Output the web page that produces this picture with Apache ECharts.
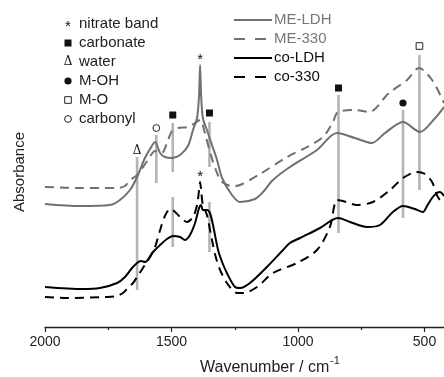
<!DOCTYPE html>
<html>
<head>
<meta charset="utf-8">
<script src="https://cdn.jsdelivr.net/npm/echarts@6/dist/echarts.min.js"></script>
<style>html,body{margin:0;padding:0;background:#fff}#c{width:444px;height:377px}</style>
</head>
<body>
<div id="c"></div>
<script>
// ---- data (wavenumber / cm-1, absorbance a.u.) ----
const seriesNames = ['ME-LDH', 'ME-330', 'co-LDH', 'co-330'];

const wnMELDH = [2000,1862,1743,1704,1664,1636,1605,1585,1565,1545,1526,1498,1466,1435,1415,1399,1391,1387,1383,1376,1360,1340,1320,1300,1261,1229,1170,1138,1099,1032,925,846,775,708,656,585,518,458,423];
const valMELDH = [1.23,1.21,1.22,1.27,1.37,1.50,1.69,1.78,1.85,1.74,1.70,1.69,1.72,1.81,1.97,2.09,2.32,2.62,2.32,2.09,1.97,1.82,1.67,1.49,1.32,1.25,1.28,1.35,1.47,1.60,1.77,1.94,1.89,1.84,1.94,2.05,1.95,2.09,2.20];

const wnME330 = [2000,1862,1715,1684,1664,1636,1593,1565,1538,1518,1498,1474,1435,1407,1387,1368,1348,1320,1300,1261,1229,1150,1043,964,901,862,842,775,719,640,569,522,470,423];
const valME330 = [1.40,1.39,1.39,1.41,1.47,1.52,1.67,1.76,1.74,1.84,1.96,1.99,2.00,2.04,2.07,1.94,1.75,1.54,1.45,1.41,1.42,1.53,1.70,1.80,1.90,2.05,2.15,2.17,2.15,2.34,2.47,2.59,2.47,2.24];

const wnCoLDH = [2000,1850,1783,1715,1684,1656,1636,1621,1605,1573,1545,1518,1494,1466,1447,1427,1407,1391,1383,1376,1360,1348,1336,1316,1300,1281,1249,1229,1190,1123,1059,1032,992,913,842,794,727,676,625,585,538,506,490,470,451,439,423];
const valCoLDH = [0.40,0.38,0.39,0.44,0.50,0.59,0.64,0.66,0.65,0.75,0.82,0.88,0.91,0.90,0.87,0.92,1.04,1.19,1.22,1.17,1.17,1.14,1.02,0.77,0.65,0.54,0.40,0.39,0.44,0.60,0.77,0.84,0.89,0.99,1.09,1.05,1.00,1.02,1.15,1.21,1.18,1.15,1.21,1.29,1.34,1.35,1.31];

const wnCo330 = [2000,1913,1755,1715,1692,1676,1652,1636,1613,1585,1565,1545,1526,1506,1490,1466,1439,1415,1399,1391,1387,1383,1376,1360,1340,1324,1308,1281,1241,1217,1162,1099,1004,925,874,846,822,767,704,636,585,530,498,470,451,439,423];
const valCo330 = [0.30,0.29,0.30,0.31,0.34,0.38,0.44,0.50,0.59,0.70,0.80,0.97,1.11,1.18,1.16,1.10,1.05,1.10,1.22,1.37,1.45,1.37,1.22,1.12,0.87,0.69,0.57,0.44,0.34,0.34,0.40,0.54,0.64,0.77,1.00,1.27,1.26,1.22,1.25,1.37,1.49,1.55,1.53,1.45,1.32,1.27,1.24];

// band marker lines (wavenumber, top, bottom)
const bandWn  = [1636, 1560, 1495, 1495, 1350, 1350, 840, 585, 520];
const bandTop = [1.70, 1.92, 2.04, 1.30, 2.05, 1.25, 2.32, 2.17, 2.72];
const bandBot = [0.37, 1.44, 1.55, 0.80, 1.60, 0.75, 0.94, 1.09, 1.37];

// band symbols
const markWn   = [1636, 1560, 1495, 1387, 1387, 1350, 840, 585, 520];
const markY    = [1.76, 1.99, 2.12, 2.67, 1.50, 2.14, 2.39, 2.24, 2.81];
const markKind = ['water','carbonyl','carbonate','nitrate','nitrate','carbonate','carbonate','M-OH','M-O'];

// key of band symbols
const keyKinds  = ['nitrate','carbonate','water','M-OH','M-O','carbonyl'];
const keyLabels = ['nitrate band','carbonate','water','M-OH','M-O','carbonyl'];

const xTicks = [500, 1000, 1500, 2000];

// ---- drawing ----
const FONT = '"Liberation Sans", Arial, Helvetica, sans-serif';
const GRAY = '#707070';
const BAND = '#b4b4b4';
const seriesColors = [GRAY, GRAY, '#000', '#000'];
const seriesDashed = [false, true, false, true];
const legendText = ['#777', '#777', '#111', '#111'];

function glyph(kind, x, y) {
  switch (kind) {
    case 'nitrate':
      return {type:'text', x:x, y:y, style:{text:'*', fontSize:15, fontFamily:FONT, fill:'#111', align:'center', verticalAlign:'middle'}};
    case 'water':
      return {type:'text', x:x, y:y, style:{text:'Δ', fontSize:12, fontFamily:'"DejaVu Serif", serif', fill:'#111', align:'center', verticalAlign:'middle'}};
    case 'carbonate':
      return {type:'rect', shape:{x:x-3.5, y:y-3.5, width:7, height:7}, style:{fill:'#111'}};
    case 'M-OH':
      return {type:'circle', shape:{cx:x, cy:y, r:3.6}, style:{fill:'#111'}};
    case 'M-O':
      return {type:'rect', shape:{x:x-3.3, y:y-3.3, width:6.6, height:6.6}, style:{fill:'#fff', stroke:'#222', lineWidth:1}};
    case 'carbonyl':
      return {type:'circle', shape:{cx:x, cy:y, r:3.4}, style:{fill:'#fff', stroke:'#222', lineWidth:1}};
  }
}

function pairs(a, b) { return a.map((v, i) => [v, b[i]]); }

const graphics = [];
keyKinds.forEach((k, i) => {
  const yy = 24 + i * 19;
  const g = glyph(k, 68, k === 'nitrate' ? yy + 3 : yy);
  g.z = 100;
  graphics.push(g);
  graphics.push({type:'text', x:79, y:yy, z:100, style:{text:keyLabels[i], fontSize:15, fontFamily:FONT, fill:'#222', verticalAlign:'middle'}});
});
seriesNames.forEach((n, i) => {
  const yy = 20 + i * 19;
  graphics.push({type:'line', z:100, shape:{x1:234, y1:yy, x2:seriesDashed[i] ? 266 : 272, y2:yy},
    style:{stroke:seriesColors[i], lineWidth:2, lineDash: seriesDashed[i] ? [11, 10] : null}});
  graphics.push({type:'text', x:274, y:yy, z:100, style:{text:n, fontSize:15, fontFamily:FONT, fill:legendText[i], verticalAlign:'middle'}});
});
graphics.push({type:'text', x:20, y:172, rotation:Math.PI/2, style:{text:'Absorbance', fontSize:15, fontFamily:FONT, fill:'#222', align:'center', verticalAlign:'middle'}});
graphics.push({type:'text', x:200, y:368, style:{text:'Wavenumber / cm', fontSize:16, fontFamily:FONT, fill:'#222', verticalAlign:'middle'}});
graphics.push({type:'text', x:330, y:361, style:{text:'-1', fontSize:11, fontFamily:FONT, fill:'#222', verticalAlign:'middle'}});

const lineSeries = seriesNames.map((n, i) => {
  const src = [[wnMELDH, valMELDH], [wnME330, valME330], [wnCoLDH, valCoLDH], [wnCo330, valCo330]][i];
  return {type:'line', name:n, data:pairs(src[0], src[1]), symbol:'none', smooth:0.3, z:3,
    lineStyle:{color:seriesColors[i], width:2, type: seriesDashed[i] ? [9, 6] : 'solid'},
    itemStyle:{color:seriesColors[i]}};
});

const chart = echarts.init(document.getElementById('c'), null, {renderer:'canvas'});
chart.setOption({
  animation: false,
  backgroundColor: '#fff',
  grid: {left:45, right:-107, top:37, bottom:50, containLabel:false, outerBoundsMode:'none'},
  xAxis: {
    type:'value', inverse:true, min:0, max:2000, interval:500,
    axisLine:{show:true, onZero:false, lineStyle:{color:'#222', width:1.3}},
    axisTick:{show:true, inside:false, length:5, lineStyle:{color:'#222', width:1.2}},
    minorTick:{show:true, splitNumber:2, length:3, lineStyle:{color:'#222', width:1.2}},
    splitLine:{show:false},
    axisLabel:{margin:8, fontSize:14, fontFamily:FONT, color:'#222',
      formatter: v => xTicks.indexOf(v) >= 0 ? String(v) : ''}
  },
  yAxis: {
    type:'value', min:0, max:2.9,
    axisLine:{show:true, lineStyle:{color:'#222', width:1.3}},
    axisTick:{show:false}, axisLabel:{show:false}, splitLine:{show:false}
  },
  graphic: graphics,
  series: [
    {
      type:'custom', name:'bands', silent:true, z:1,
      data: bandWn.map((w, i) => [w, bandTop[i], bandBot[i]]),
      renderItem: (params, api) => {
        const p1 = api.coord([api.value(0), api.value(1)]);
        const p2 = api.coord([api.value(0), api.value(2)]);
        return {type:'line', shape:{x1:p1[0], y1:p1[1], x2:p2[0], y2:p2[1]}, style:{stroke:BAND, lineWidth:2.6}};
      }
    }
  ].concat(lineSeries).concat([
    {
      type:'custom', name:'band symbols', silent:true, z:5,
      data: markWn.map((w, i) => [w, markY[i]]),
      renderItem: (params, api) => {
        const p = api.coord([api.value(0), api.value(1)]);
        return glyph(markKind[params.dataIndex], p[0], p[1]);
      }
    }
  ])
});
</script>
</body>
</html>
